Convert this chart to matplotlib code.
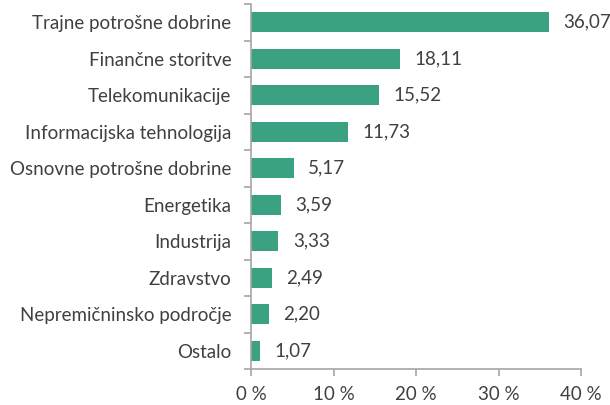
import matplotlib
matplotlib.use('Agg')
import matplotlib.pyplot as plt
import matplotlib.ticker as ticker
import numpy as np

categories = ['Trajne potrošne dobrine', 'Finančne storitve', 'Telekomunikacije',
              'Informacijska tehnologija', 'Osnovne potrošne dobrine', 'Energetika',
              'Industrija', 'Zdravstvo', 'Nepremičninsko področje', 'Ostalo']
values = [36.07, 18.11, 15.52, 11.73, 5.17, 3.59, 3.33, 2.49, 2.20, 1.07]
xticks = [0, 10, 20, 30, 40]

plt.rcParams['font.family'] = ['Lato', 'DejaVu Sans']
text_color = '#404040'
axis_color = '#A6A6A6'
bar_color = '#3BA183'
fs = 13.5

fig = plt.figure(figsize=(6.1, 4.05), dpi=100)
ax = fig.add_axes([0.4115, 0.0889, 0.5410, 0.9011])

y = np.arange(len(categories))
ax.barh(y, values, height=0.55, color=bar_color)
for yi, v in zip(y, values):
    ax.text(v + 1.75, yi, f'{v:.2f}'.replace('.', ','), va='center', ha='left',
            fontsize=fs, color=text_color)

ax.set_ylim(len(categories) - 0.5, -0.5)
ax.set_xlim(0, 40)
ax.set_yticks(y)
ax.set_yticklabels(categories, fontsize=fs, color=text_color)
ax.set_yticks(np.arange(-0.5, len(categories), 1), minor=True)
ax.tick_params(axis='y', which='major', length=0, pad=14)
ax.tick_params(axis='y', which='minor', length=5, color=axis_color, width=1.2)
ax.set_xticks(xticks)
ax.xaxis.set_major_formatter(ticker.FuncFormatter(lambda x, p: f'{x:.0f} %'))
ax.tick_params(axis='x', length=5, color=axis_color, width=1.2, labelsize=fs,
               labelcolor=text_color, pad=7.5)

for s in ['top', 'right']:
    ax.spines[s].set_visible(False)
for s in ['left', 'bottom']:
    ax.spines[s].set_color(axis_color)
    ax.spines[s].set_linewidth(1.2)

fig.savefig('out.png', dpi=100)
